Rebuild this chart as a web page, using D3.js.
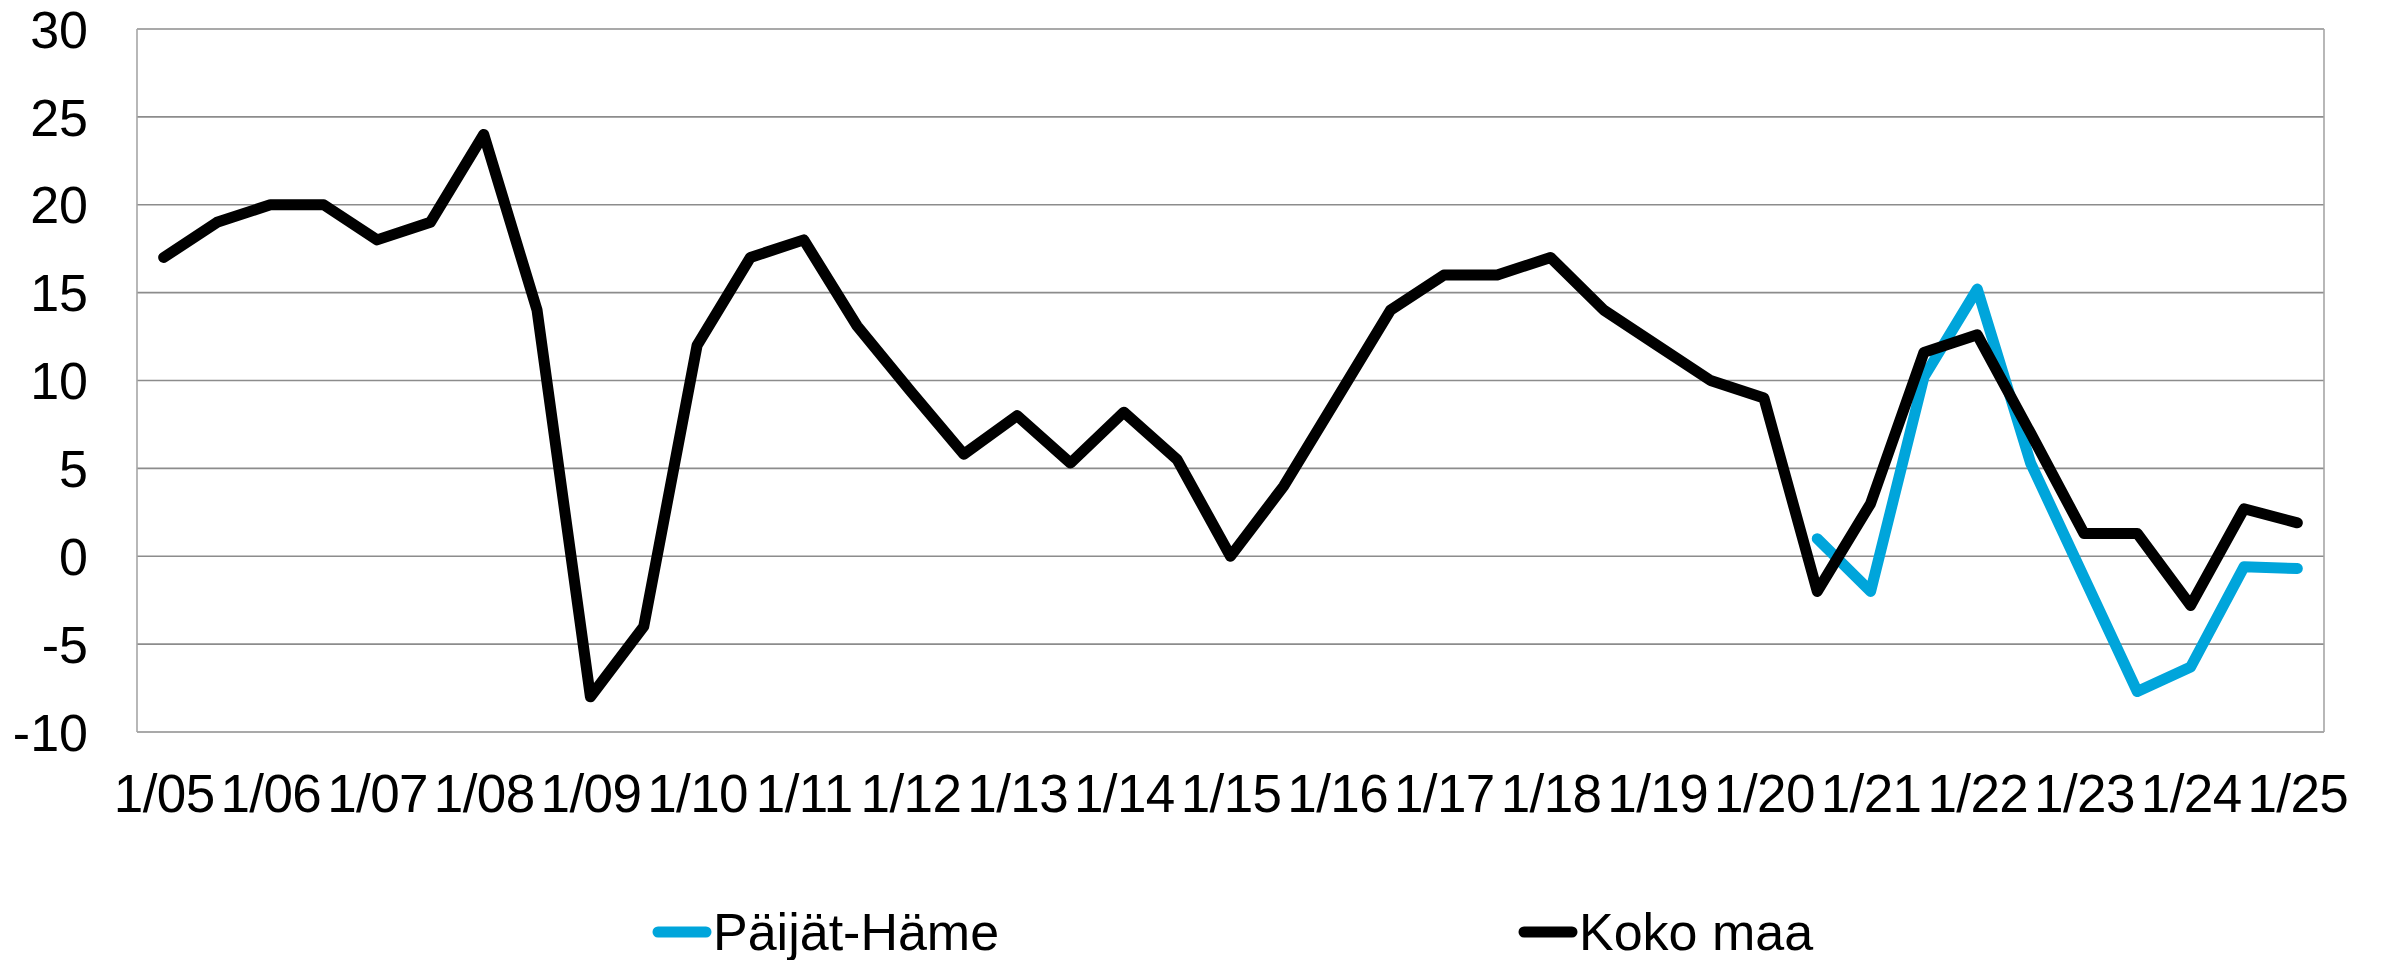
<!DOCTYPE html>
<html>
<head>
<meta charset="utf-8">
<script src="https://cdn.jsdelivr.net/npm/d3@7"></script>
<style>
  body { margin: 0; background: #fff; }
  text { font-family: "Liberation Sans", Arial, sans-serif; fill: #000; }
</style>
</head>
<body>
<div id="chart"></div>
<script>
// half-year categories, 1/05 ... 1/25
var categories = ["1/05","7/05","1/06","7/06","1/07","7/07","1/08","7/08","1/09","7/09",
  "1/10","7/10","1/11","7/11","1/12","7/12","1/13","7/13","1/14","7/14",
  "1/15","7/15","1/16","7/16","1/17","7/17","1/18","7/18","1/19","7/19",
  "1/20","7/20","1/21","7/21","1/22","7/22","1/23","7/23","1/24","7/24","1/25"]

var tickLabels = ["1/05","1/06","1/07","1/08","1/09","1/10","1/11","1/12","1/13","1/14",
  "1/15","1/16","1/17","1/18","1/19","1/20","1/21","1/22","1/23","1/24","1/25"]

var kokoMaa = [17, 19, 20, 20, 18, 19, 24, 14, -8, -4,
  12, 17, 18, 13.1, 9.4, 5.8, 8, 5.3, 8.2, 5.5,
  0, 4, 9, 14, 16, 16, 17, 14, 12, 10,
  9, -2, 3, 11.6, 12.6, 7, 1.3, 1.3, -2.8, 2.7, 1.9]

var paijatHame = [null, null, null, null, null, null, null, null, null, null,
  null, null, null, null, null, null, null, null, null, null,
  null, null, null, null, null, null, null, null, null, null,
  null, 1, -2, 10.2, 15.2, 5.3, -1.2, -7.7, -6.3, -0.6, -0.7]

var yTicks = [30, 25, 20, 15, 10, 5, 0, -5, -10]

var seriesNames = ["Päijät-Häme", "Koko maa"]
var seriesColors = ["#00a5db", "#000000"]

var width = 2381, height = 960
var margin = {top: 29, right: 57, bottom: 228, left: 137}

var svg = d3.select("#chart")
  .append("svg")
  .attr("width", width)
  .attr("height", height)

var x = d3.scalePoint()
  .domain(categories)
  .range([margin.left, width - margin.right])
  .padding(0.5)

var y = d3.scaleLinear()
  .domain([-10, 30])
  .range([height - margin.bottom, margin.top])

// gridlines
svg.append("g")
  .selectAll("line")
  .data(yTicks)
  .join("line")
  .attr("x1", margin.left)
  .attr("x2", width - margin.right)
  .attr("y1", d => y(d))
  .attr("y2", d => y(d))
  .attr("stroke", "#8c8c8c")
  .attr("stroke-width", 1.6)

// plot border left/right
svg.append("g")
  .selectAll("line")
  .data([margin.left, width - margin.right])
  .join("line")
  .attr("x1", d => d)
  .attr("x2", d => d)
  .attr("y1", y(30))
  .attr("y2", y(-10))
  .attr("stroke", "#a6a6a6")
  .attr("stroke-width", 1.6)

// y labels (plain hyphen for negatives)
var yAxis = d3.axisLeft(y).tickValues(yTicks).tickSize(0).tickPadding(0)
  .tickFormat(d => String(d))
var yg = svg.append("g")
  .attr("transform", "translate(88,0)")
  .call(yAxis)
yg.select(".domain").remove()
yg.selectAll("text")
  .attr("font-size", "52px")
  .attr("font-family", "Liberation Sans, Arial, sans-serif")
  .attr("fill", "#000")
  .attr("dy", "0.35em")

// x labels
var xAxis = d3.axisBottom(x).tickValues(tickLabels).tickSize(0).tickPadding(0)
var xg = svg.append("g")
  .attr("transform", "translate(0,774)")
  .call(xAxis)
xg.select(".domain").remove()
xg.selectAll("text")
  .attr("font-size", "53px")
  .attr("letter-spacing", "-0.6px")
  .attr("font-family", "Liberation Sans, Arial, sans-serif")
  .attr("fill", "#000")
  .attr("dy", "0.72em")

var drawLine = d3.line()
  .defined(d => d.v != null)
  .x(d => x(d.c))
  .y(d => y(d.v))

var series = [paijatHame, kokoMaa]
series.forEach(function(vals, i) {
  svg.append("path")
    .datum(categories.map((c, j) => ({c: c, v: vals[j]})))
    .attr("fill", "none")
    .attr("stroke", seriesColors[i])
    .attr("stroke-width", 11)
    .attr("stroke-linejoin", "round")
    .attr("stroke-linecap", "round")
    .attr("d", drawLine)
})

// legend
var legendX = [652, 1518]
var legend = svg.append("g")
  .selectAll("g")
  .data(seriesNames)
  .join("g")
  .attr("transform", (d, i) => "translate(" + legendX[i] + ",932)")

legend.append("line")
  .attr("x1", 6).attr("x2", 54)
  .attr("y1", 0).attr("y2", 0)
  .attr("stroke", (d, i) => seriesColors[i])
  .attr("stroke-width", 11)
  .attr("stroke-linecap", "round")

legend.append("text")
  .attr("x", 61)
  .attr("y", 18)
  .attr("font-size", "52px")
  .text(d => d)
</script>
</body>
</html>
